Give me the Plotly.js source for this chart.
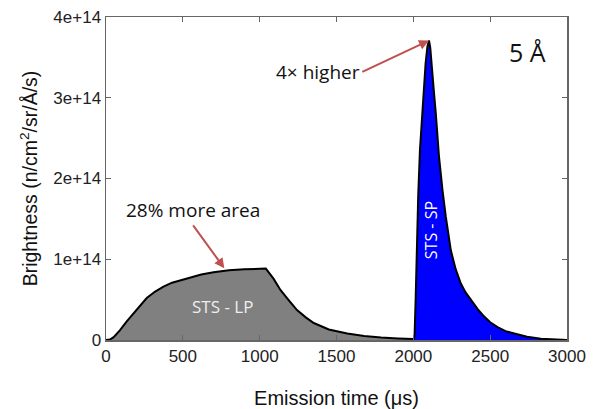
<!DOCTYPE html>
<html>
<head>
<meta charset="utf-8">
<script src="https://cdn.plot.ly/plotly-3.0.1.min.js"></script>
<style>
html,body{margin:0;padding:0;background:#fff;}
#chart{width:596px;height:409px;}
</style>
</head>
<body>
<div id="chart"></div>
<script>
// Long pulse (STS - LP)
const lpTime = [0, 25, 50, 90, 135, 180, 222, 265, 320, 374, 430, 483, 550, 620, 700, 800, 900, 1000, 1040, 1090, 1135, 1190, 1243, 1300, 1352, 1450, 1570, 1680, 1790, 1900, 2000];
const lpBrightness = [0, 0.005e14, 0.035e14, 0.12e14, 0.23e14, 0.33e14, 0.43e14, 0.52e14, 0.60e14, 0.66e14, 0.71e14, 0.74e14, 0.78e14, 0.81e14, 0.84e14, 0.865e14, 0.875e14, 0.88e14, 0.885e14, 0.76e14, 0.62e14, 0.49e14, 0.37e14, 0.28e14, 0.21e14, 0.13e14, 0.08e14, 0.05e14, 0.03e14, 0.02e14, 0.012e14];
// Short pulse (STS - SP)
const spTime = [2000, 2008, 2015, 2022, 2032, 2043, 2059, 2070, 2080, 2092, 2102, 2110, 2120, 2135, 2146, 2167, 2190, 2211, 2244, 2275, 2309, 2340, 2374, 2420, 2461, 2500, 2548, 2600, 2657, 2740, 2830, 2920, 3000];
const spBrightness = [0, 0.05e14, 0.5e14, 1.1e14, 1.8e14, 2.35e14, 2.81e14, 3.15e14, 3.43e14, 3.64e14, 3.71e14, 3.62e14, 3.43e14, 3.05e14, 2.81e14, 2.27e14, 1.85e14, 1.53e14, 1.11e14, 0.88e14, 0.70e14, 0.59e14, 0.50e14, 0.38e14, 0.29e14, 0.22e14, 0.16e14, 0.11e14, 0.08e14, 0.04e14, 0.015e14, 0.005e14, 0];
// Axis ticks
const xTickVals = [0, 500, 1000, 1500, 2000, 2500, 3000];
const xTickText = ["0", "500", "1000", "1500", "2000", "2500", "3000"];
const yTickVals = [0, 1e14, 2e14, 3e14, 4e14];
const yTickText = ["0", "1e+14", "2e+14", "3e+14", "4e+14"];

const traces = [
  {x: lpTime, y: lpBrightness, type: 'scatter', mode: 'lines', fill: 'tozeroy',
   fillcolor: '#808080', line: {color: '#000', width: 2}, hoverinfo: 'skip'},
  {x: spTime, y: spBrightness, type: 'scatter', mode: 'lines', fill: 'tozeroy',
   fillcolor: '#0000ff', line: {color: '#000', width: 2}, hoverinfo: 'skip'}
];

const annFont = "Open Sans, Noto Sans, sans-serif";
const arrowColor = '#c0504d';

const layout = {
  width: 596, height: 409,
  margin: {l: 106, r: 29, t: 17, b: 69},
  paper_bgcolor: '#fff', plot_bgcolor: '#fff',
  showlegend: false,
  font: {family: 'Liberation Sans, Arial, sans-serif', color: '#222'},
  xaxis: {
    range: [0, 3000], tickvals: xTickVals, ticktext: xTickText,
    ticks: 'inside', ticklen: 5, tickcolor: '#666', tickwidth: 1,
    showline: true, linecolor: '#666', linewidth: 1.5, mirror: 'ticks',
    showgrid: false, zeroline: false,
    tickfont: {size: 17, color: '#222'},
    title: {text: 'Emission time (μs)', font: {size: 20, color: '#111'}, standoff: 28}
  },
  yaxis: {
    range: [0, 4e14], tickvals: yTickVals, ticktext: yTickText,
    ticks: 'inside', ticklen: 5, tickcolor: '#666', tickwidth: 1,
    showline: true, linecolor: '#666', linewidth: 1.5, mirror: 'ticks',
    showgrid: false, zeroline: false,
    tickfont: {size: 17, color: '#222'},
    title: {text: 'Brightness (n/cm<sup>2</sup>/sr/Å/s)', font: {size: 19.5, color: '#111'}, standoff: 10}
  },
  annotations: [
    {x: 2102, y: 3.71e14, ax: 1668, ay: 3.32e14, xref: 'x', yref: 'y', axref: 'x', ayref: 'y',
     xanchor: 'right', yanchor: 'middle',
     showarrow: true, arrowhead: 2, arrowsize: 1, arrowwidth: 2, arrowcolor: arrowColor,
     text: '4× higher', font: {family: annFont, size: 19, color: '#111'}},
    {x: 770, y: 0.888e14, ax: 567, ay: 1.42e14, xref: 'x', yref: 'y', axref: 'x', ayref: 'y',
     xanchor: 'center', yanchor: 'bottom',
     showarrow: true, arrowhead: 2, arrowsize: 1, arrowwidth: 2, arrowcolor: arrowColor,
     text: '28% more area', font: {family: annFont, size: 19, color: '#111'}},
    {x: 755, y: 0.42e14, xref: 'x', yref: 'y', text: 'STS - LP', showarrow: false,
     font: {family: annFont, size: 17, color: '#eeeeee'}},
    {x: 2115, y: 1.36e14, xref: 'x', yref: 'y', text: 'STS - SP', showarrow: false, textangle: -90,
     font: {family: annFont, size: 16, color: '#ffffff'}},
    {x: 2745, y: 3.57e14, xref: 'x', yref: 'y', text: '5 Å', showarrow: false,
     font: {family: annFont, size: 25, color: '#111'}}
  ]
};

Plotly.newPlot('chart', traces, layout, {displayModeBar: false, staticPlot: true});
</script>
</body>
</html>
